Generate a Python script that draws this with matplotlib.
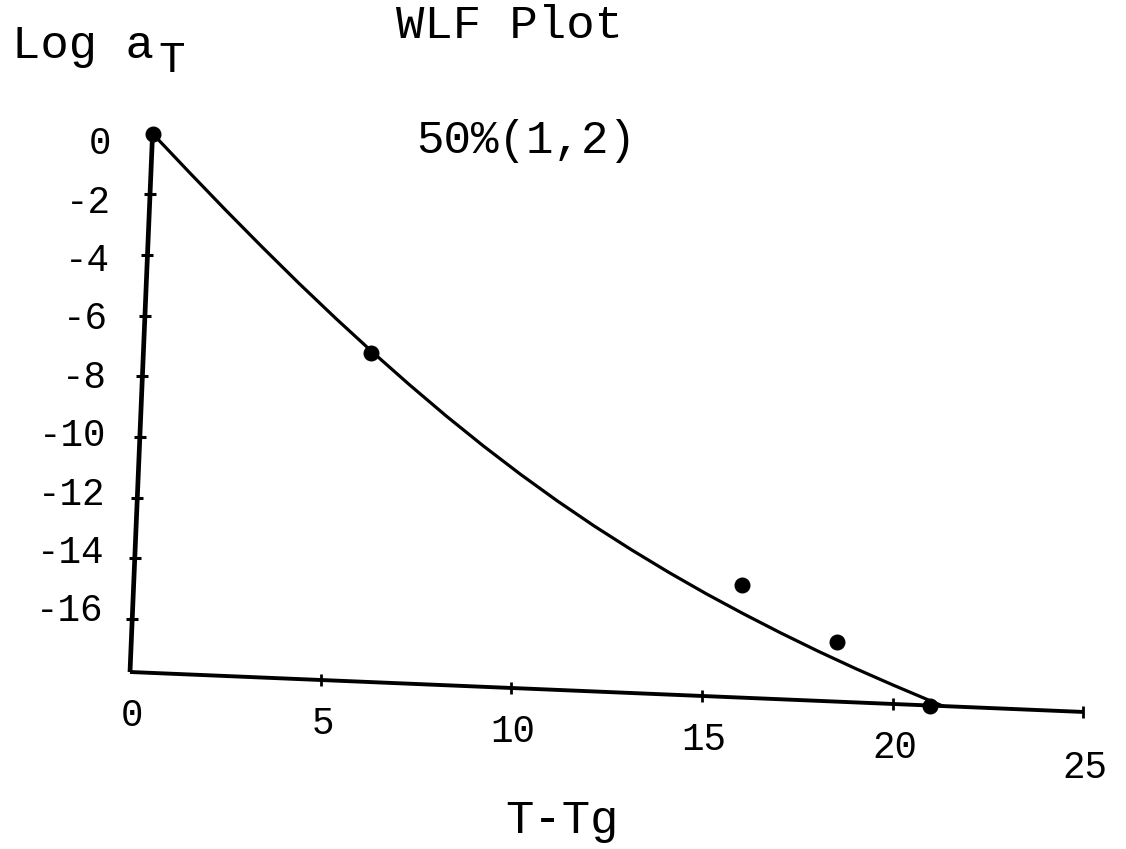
import matplotlib
matplotlib.use("Agg")
import matplotlib.pyplot as plt
from matplotlib.transforms import Affine2D

# WLF plot, 50% (1,2)
x_ticks = [0, 5, 10, 15, 20, 25]
y_ticks = [0, -2, -4, -6, -8, -10, -12, -14, -16]
x_min, x_max = 0, 25
y_min, y_max = -17.75, 0

# measured points (T - Tg, log aT)
t_pts = [0.0, 5.97, 15.93, 18.48, 20.98]
log_at_pts = [0.0, -6.91, -14.03, -15.78, -17.75]

# fitted curve as drawn on the chart
t_fit = [0, 1, 2, 3, 4, 5, 6, 7, 8, 9, 10, 11,
         12, 13, 14, 15, 16, 17, 18, 19, 20, 21, 21.3]
log_at_fit = [0.0, -1.22, -2.42, -3.59, -4.73, -5.83, -6.89, -7.91, -8.89,
              -9.82, -10.70, -11.53, -12.31, -13.04, -13.73, -14.38, -14.99,
              -15.57, -16.12, -16.64, -17.13, -17.60, -17.74]

W, H = 1126, 849
FONT = "Liberation Mono"


def px(x, y):
    # image pixel (y down) -> figure fraction
    return x / W, 1 - y / H


fig = plt.figure(figsize=(W / 100, H / 100), dpi=100)
fig.patch.set_facecolor("white")
ax = fig.add_axes([130 / W, 177 / H, 954 / W, 538.9 / H])
ax.set_xlim(x_min, x_max)
ax.set_ylim(y_min, y_max)
ax.axis("off")

# the scanned plot is turned slightly clockwise
ox, oy = ax.transData.transform((x_min, y_min))
tr = ax.transData + Affine2D().rotate_deg_around(ox, oy, -2.4)
# y labels drift less than the axis itself
ylab_tr = ax.transData + (Affine2D().translate(-ox, -oy).scale(1, 0.962)
                          .rotate_deg(-1.06).translate(ox - 28, oy + 9.5))

# axes
ax.plot([x_min, x_max], [y_min, y_min], color="black", lw=2.8,
        transform=tr, clip_on=False, solid_capstyle="butt")
ax.plot([x_min, x_min], [y_min, y_max], color="black", lw=3.4,
        transform=tr, clip_on=False, solid_capstyle="butt")
ax.plot(x_ticks[1:], [y_min] * (len(x_ticks) - 1), ls="none", marker="|",
        ms=9, mew=2, color="black", transform=tr, clip_on=False)
ax.plot([x_min] * (len(y_ticks) - 1), y_ticks[1:], ls="none", marker="_",
        ms=9, mew=2.2, color="black", transform=tr, clip_on=False)

# tick labels
for i, v in enumerate(x_ticks):
    drop = -44 if i < len(x_ticks) - 1 else -56
    ax.text(v, y_min, str(v), transform=tr + Affine2D().translate(2, drop),
            ha="center", va="center", fontsize=27, family=FONT)
for v in y_ticks:
    ax.text(x_min, v, str(v), transform=ylab_tr,
            ha="right", va="center", fontsize=27, family=FONT)

# curve and data
ax.plot(t_fit, log_at_fit, color="black", lw=2.3, transform=tr, clip_on=False)
ax.plot(t_pts, log_at_pts, "o", ms=10.5, color="black", transform=tr, clip_on=False)

# titles
fig.text(*px(12, 58), "Log a", fontsize=34, family=FONT, ha="left", va="baseline")
fig.text(*px(158, 72), "T", fontsize=32, family=FONT, ha="left", va="baseline")
fig.text(*px(396, 38), "WLF Plot", fontsize=34, family=FONT, ha="left", va="baseline")
fig.text(*px(416, 153), "50%(1,2)", fontsize=33, family=FONT, ha="left", va="baseline")
fig.text(*px(505, 833), "T-Tg", fontsize=34, family=FONT, ha="left", va="baseline")

fig.savefig("out.png", dpi=100)
